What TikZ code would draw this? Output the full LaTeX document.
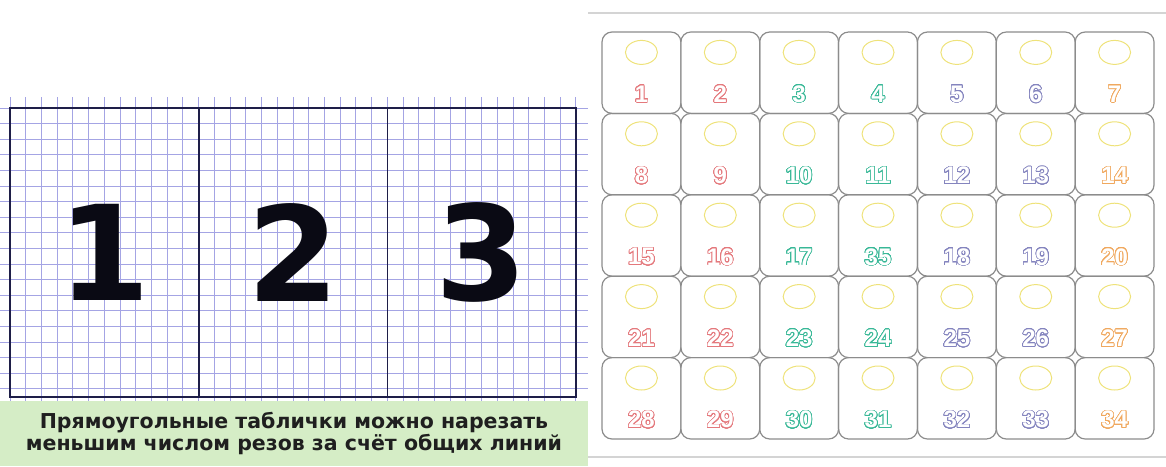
\documentclass[tikz,border=0pt]{standalone}
\usepackage{xcolor}
\usepackage{fontspec}
\setmainfont{DejaVu Sans}
\newfontfamily\tilefont{Liberation Sans}
\usepackage{contour}
\usepackage{tikz}
\usetikzlibrary{positioning,shapes.geometric}
\definecolor{gridblue}{HTML}{A4A4E4}
\definecolor{framenavy}{HTML}{1E1E48}
\definecolor{inkblack}{HTML}{0A0A14}
\definecolor{notegreen}{HTML}{D5EDC6}
\definecolor{tilegray}{HTML}{8C8C8C}
\definecolor{rulegray}{HTML}{D4D4D4}
\definecolor{ringyellow}{HTML}{EEE27A}
\definecolor{tred}{HTML}{E4787C}
\definecolor{tgreen}{HTML}{38B897}
\definecolor{tviolet}{HTML}{8484BE}
\definecolor{torange}{HTML}{F0A85E}
\colorlet{tc1}{tred}\colorlet{tc2}{tred}
\colorlet{tc3}{tgreen}\colorlet{tc4}{tgreen}
\colorlet{tc5}{tviolet}\colorlet{tc6}{tviolet}
\colorlet{tc7}{torange}
\contourlength{0.7pt}
\contournumber{32}
\newcommand\hollow[2]{\contour{#1}{\textcolor{white}{#2}}}
\tikzset{
  gridline/.style={draw=gridblue,line width=0.9pt},
  panel/.style={draw=framenavy,line width=1.8pt,minimum width=188.7pt,minimum height=289pt,inner sep=0pt,
    font=\bfseries\fontsize{132}{132}\selectfont,text=inkblack},
  note/.style={fill=notegreen,minimum width=588pt,minimum height=65pt,align=center,inner sep=0pt,
    font=\bfseries\fontsize{20.5}{21.5}\selectfont,text=black!88},
  rule/.style={draw=rulegray,line width=1.8pt},
  tile/.style={draw=tilegray,line width=1.2pt,rounded corners=10pt,minimum width=78.86pt,minimum height=81.4pt,inner sep=0pt},
  ring/.style={ellipse,draw=ringyellow,line width=1pt,minimum width=32pt,minimum height=24pt,inner sep=0pt},
  num/.style={font=\tilefont\bfseries\fontsize{24}{24}\selectfont,inner sep=0pt},
}

\begin{document}
\begin{tikzpicture}[x=1pt,y=-1pt]
\useasboundingbox (0,0) rectangle (1166,466);
% graph paper
\begin{scope}
\clip (0,97) rectangle (588,412);
\foreach \k in {0,...,36}
  \draw[gridline] (10+15.72*\k,97) -- (10+15.72*\k,412);
\foreach \k in {0,...,19}
  \draw[gridline] (0,108+15.6*\k) -- (588,108+15.6*\k);
\end{scope}
% three plates
\foreach \i in {1,2,3}
  \node[panel] (p\i) at (10+188.7*\i-94.35,252.5) {\i};
% caption
\node[note] (cap) at (294,433.5)
 {Прямоугольные таблички можно нарезать\\меньшим числом резов за счёт общих линий};
% sheet of 35 tiles
\draw[rule] (588,13) -- (1166,13);
\draw[rule] (588,457) -- (1166,457);
\foreach \r/\row in {1/{1,2,3,4,5,6,7},2/{8,9,10,11,12,13,14},3/{15,16,17,35,18,19,20},
                     4/{21,22,23,24,25,26,27},5/{28,29,30,31,32,33,34}} {
  \foreach \v [count=\c] in \row {
    \node[tile] (t\r-\c) at (602+78.86*\c-39.43,32+81.4*\r-40.7) {};
    \node[ring] (o\r-\c) at ([yshift=-21pt]t\r-\c.north) {};
    \node[num] (n\r-\c) at ([yshift=-63pt]t\r-\c.north) {\hollow{tc\c}{\v}};
  }
}
\end{tikzpicture}
\end{document}
